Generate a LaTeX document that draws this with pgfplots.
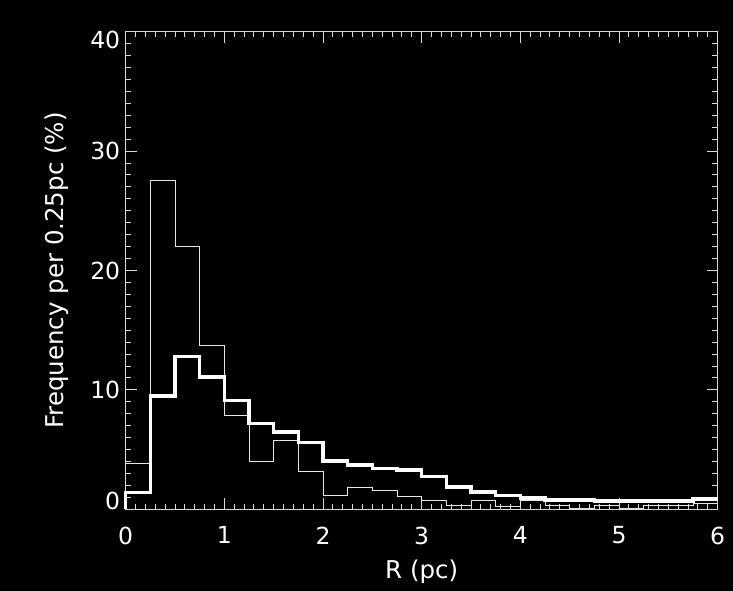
\documentclass[border=0pt]{standalone}
\usepackage{fontspec}
\setmainfont{DejaVu Sans}
\usepackage{pgfplots}
\pgfplotsset{compat=1.18}
\begin{document}
\begin{tikzpicture}
\useasboundingbox[fill=black] (-125.7bp,-81.7bp) rectangle (607.3bp,509.3bp);
\begin{axis}[
  at={(0,0)}, anchor=south west,
  scale only axis, width=592bp, height=477.6bp,
  xmin=0, xmax=6, ymin=0, ymax=40,
  xtick={0,1,2,3,4,5,6}, ytick={0,10,20,30,40},
  yticklabels={\smash{\raisebox{0bp}{0}},10,20,30,\smash{\raisebox{-17bp}{40}}},
  minor x tick num=9, minor y tick num=9,
  tick align=inside, major tick length=11bp, minor tick length=5.5bp,
  axis line style={draw=white!85!black, line width=1.2bp},
  tick style={draw=white!85!black, line width=1bp},
  ticklabel style={text=white, font=\fontsize{23.5bp}{28bp}\selectfont},
  /pgf/number format/assume math mode=true,
  xticklabel style={yshift=-14bp},
  yticklabel style={xshift=-2bp},
  xlabel={R (pc)}, ylabel={Frequency per 0.25pc (\%)},
  label style={text=white, font=\fontsize{24.5bp}{29bp}\selectfont},
  xlabel style={at={(axis description cs:0.5,-0.131)}, anchor=center},
  ylabel style={at={(axis description cs:-0.116,0.5)}, anchor=center},
  clip=false,
]
\addplot[const plot, white!90!black, line width=0.9bp] coordinates {
(0,3.8) (0.25,27.5) (0.5,22.0) (0.75,13.7) (1.0,7.9) (1.25,4.0) (1.5,5.8) (1.75,3.15)
(2.0,1.2) (2.25,1.8) (2.5,1.6) (2.75,1.1) (3.0,0.7) (3.25,0.3) (3.5,0.7) (3.75,0.2)
(4.0,0.7) (4.25,0.35) (4.5,0.1) (4.75,0.35) (5.0,0.1) (5.25,0.3) (5.5,0.35) (5.75,0.5) (6.0,0.5)
};
\addplot[const plot, white, line width=3.6bp] coordinates {
(0,0) (0,1.4) (0.25,9.5) (0.5,12.8) (0.75,11.1) (1.0,9.1) (1.25,7.2) (1.5,6.45) (1.75,5.6)
(2.0,4.05) (2.25,3.73) (2.5,3.43) (2.75,3.3) (3.0,2.75) (3.25,1.85) (3.5,1.45) (3.75,1.15)
(4.0,0.95) (4.25,0.8) (4.5,0.8) (4.75,0.68) (5.0,0.68) (5.25,0.68) (5.5,0.68) (5.75,0.88) (6.0,0.88)
};
\end{axis}
\end{tikzpicture}
\end{document}
